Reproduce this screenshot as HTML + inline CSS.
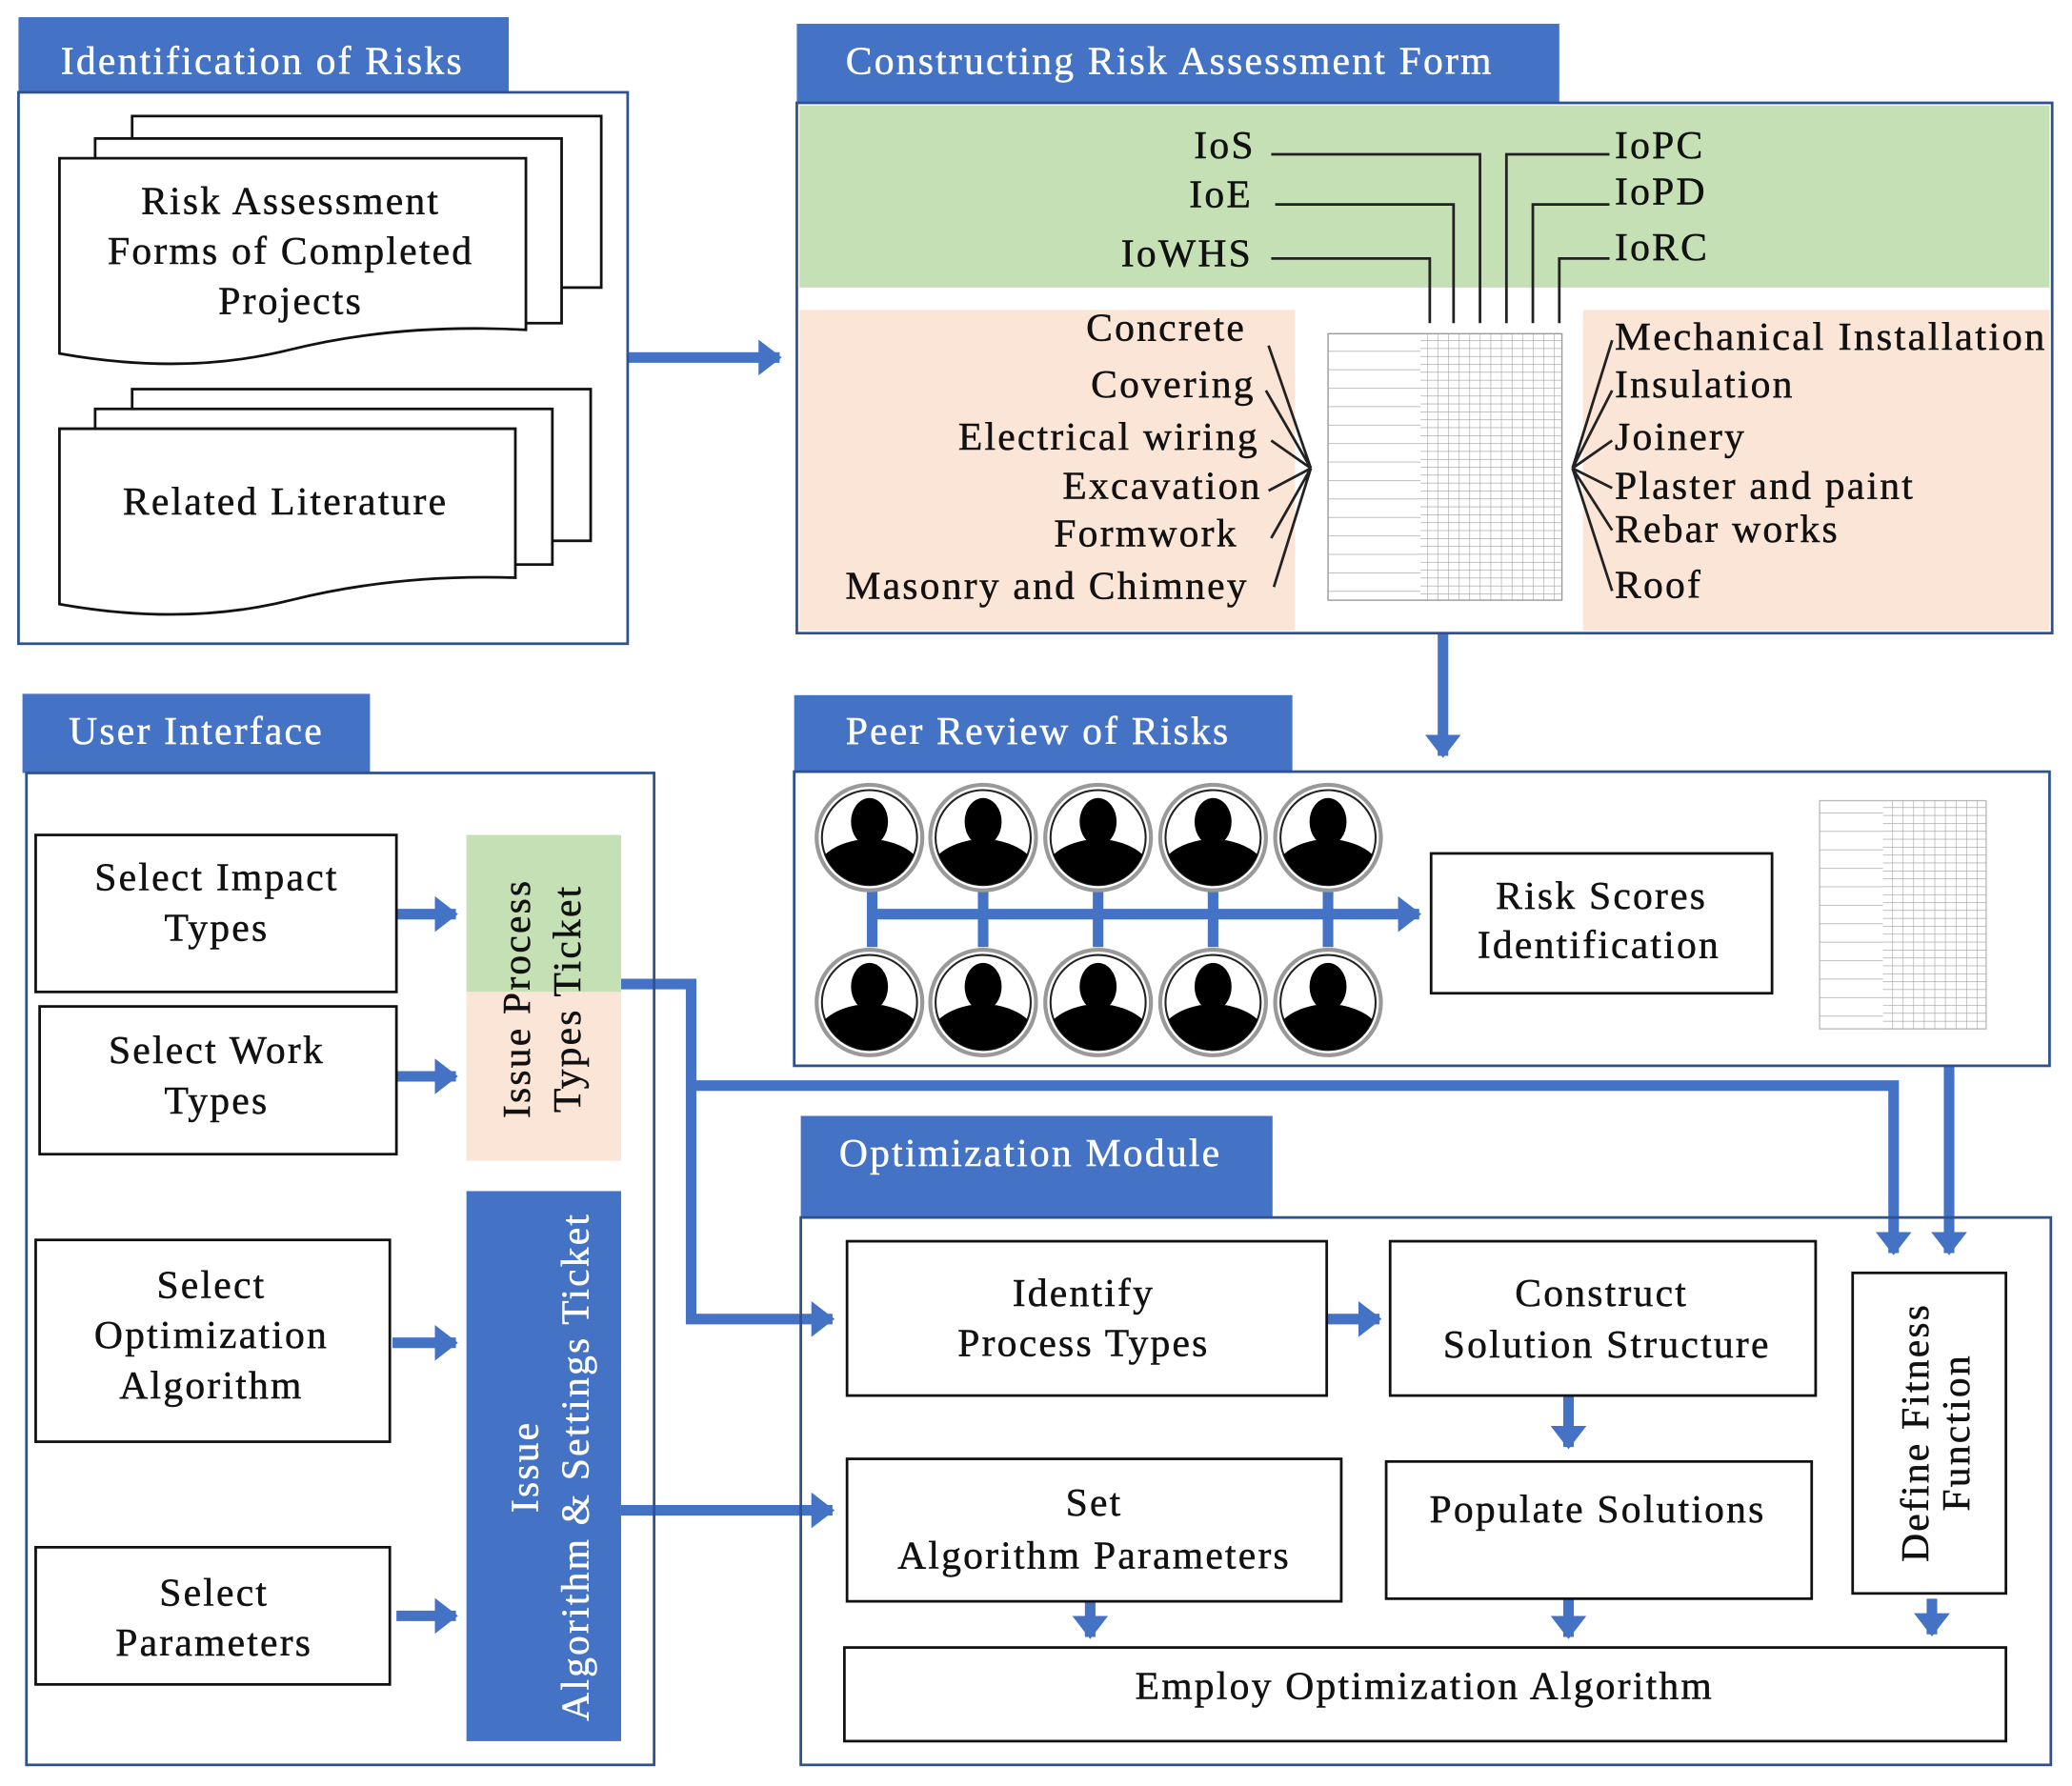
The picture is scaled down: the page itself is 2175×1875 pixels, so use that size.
<!DOCTYPE html>
<html><head><meta charset="utf-8"><style>
html,body{margin:0;padding:0;background:#fff}
svg{display:block}
text{font-family:"Liberation Serif",serif;fill:#111;letter-spacing:1.6px;stroke:#111;stroke-width:0.35}
.h{fill:#fff;stroke:#fff;font-size:30px}
.t{font-size:30px}
</style></head><body>
<svg width="2175" height="1875" viewBox="0 0 1568 1354" preserveAspectRatio="none" xmlns="http://www.w3.org/2000/svg">
<defs>
<marker id="a" markerWidth="4" markerHeight="4" refX="2" refY="2" orient="auto" markerUnits="strokeWidth"><path d="M0,0.3 L2.2,2 L0,3.7z" fill="#4472C4"/></marker>
<clipPath id="c"><circle r="36"/></clipPath>
<g id="p"><circle r="40" fill="#fff" stroke="#999" stroke-width="3"/><circle r="36" fill="#fff" stroke="#222" stroke-width="1.5"/>
<g clip-path="url(#c)"><ellipse cx="0" cy="-12" rx="14" ry="18" fill="#000"/><path d="M-8,0 L8,0 L10,8 L-10,8z" fill="#000"/><path d="M-40,40 L-38,18 Q-30,6 -10,2 L10,2 Q30,6 38,18 L40,40z" fill="#000"/></g></g>
<pattern id="g" width="8" height="6" patternUnits="userSpaceOnUse"><path d="M0,0H8M0,0V6" stroke="#999" stroke-width="0.8" fill="none"/></pattern>
<pattern id="g2" width="60" height="14" patternUnits="userSpaceOnUse"><path d="M0,0H60" stroke="#aaa" stroke-width="1" fill="none"/></pattern>
</defs>
<g fill="none" stroke="#4472C4" stroke-width="8">
<path d="M475,271H590" marker-end="url(#a)"/>
<path d="M1092,480V573" marker-end="url(#a)"/>
<path d="M660,693H1074" marker-end="url(#a)"/>
<path d="M660,670V718M744,670V718M831,670V718M918,670V718M1005,670V718" />
<path d="M300,693H345" marker-end="url(#a)"/>
<path d="M300,816H345" marker-end="url(#a)"/>
<path d="M297,1018H345" marker-end="url(#a)"/>
<path d="M300,1225H345" marker-end="url(#a)"/>
<path d="M470,746H523V1000H630" marker-end="url(#a)"/>
<path d="M523,823H1433V950" marker-end="url(#a)"/>
<path d="M1475,808V950" marker-end="url(#a)"/>
<path d="M470,1145H630" marker-end="url(#a)"/>
<path d="M1004,1000H1044" marker-end="url(#a)"/>
<path d="M1187,1058V1097" marker-end="url(#a)"/>
<path d="M825,1214V1241" marker-end="url(#a)"/>
<path d="M1187,1212V1241" marker-end="url(#a)"/>
<path d="M1462,1212V1239" marker-end="url(#a)"/>
</g>
<!-- Identification -->
<rect x="14" y="13" width="371" height="57" fill="#4472C4"/>
<text class="h" x="46" y="56">Identification of Risks</text>
<rect x="14" y="70" width="461" height="418" fill="none" stroke="#2F528F" stroke-width="2"/>
<g fill="#fff" stroke="#111" stroke-width="2">
<rect x="100" y="88" width="355" height="130"/><rect x="72" y="105" width="353" height="140"/>
<path d="M45,120H398V250Q300,245 220,265T45,268Z"/>
<rect x="100" y="295" width="347" height="115"/><rect x="72" y="310" width="346" height="118"/>
<path d="M45,325H390V438Q300,435 220,455T45,458Z"/>
</g>
<g class="t" text-anchor="middle"><text x="220" y="162">Risk Assessment</text><text x="220" y="200">Forms of Completed</text><text x="220" y="238">Projects</text><text x="216" y="390">Related Literature</text></g>
<!-- Constructing -->
<rect x="603" y="18" width="577" height="60" fill="#4472C4"/>
<text class="h" x="640" y="56">Constructing Risk Assessment Form</text>
<rect x="603" y="78" width="950" height="402" fill="#fff" stroke="#2F528F" stroke-width="2"/>
<rect x="605" y="80" width="946" height="138" fill="#C5E0B4"/>
<rect x="605" y="235" width="375" height="243" fill="#FBE5D6"/>
<rect x="1198" y="235" width="353" height="243" fill="#FBE5D6"/>
<rect x="1005" y="253" width="177" height="202" fill="#fff" stroke="#999"/>
<rect x="1005" y="253" width="70" height="202" fill="url(#g2)"/>
<rect x="1075" y="253" width="107" height="202" fill="url(#g)"/>
<g fill="none" stroke="#222" stroke-width="2">
<path d="M962,117H1120V245M965,155H1100V245M962,196H1082V245M1218,117H1140V245M1218,155H1160V245M1218,196H1180V245"/>
<path d="M960,262L992,355M958,296L992,355M962,334L992,355M960,372L992,355M962,408L992,355M964,445L992,355"/>
<path d="M1220,258L1190,355M1220,296L1190,355M1220,334L1190,355M1220,370L1190,355M1220,402L1190,355M1220,448L1190,355"/>
</g>
<g class="t" text-anchor="end"><text x="950" y="120">IoS</text><text x="948" y="157">IoE</text><text x="948" y="202">IoWHS</text>
<text x="943" y="258">Concrete</text><text x="950" y="301">Covering</text><text x="953" y="341">Electrical wiring</text><text x="955" y="378">Excavation</text><text x="937" y="414">Formwork</text><text x="945" y="454">Masonry and Chimney</text></g>
<g class="t"><text x="1222" y="120">IoPC</text><text x="1222" y="155">IoPD</text><text x="1222" y="197">IoRC</text>
<text x="1222" y="265" textLength="327" lengthAdjust="spacingAndGlyphs">Mechanical Installation</text><text x="1222" y="301">Insulation</text><text x="1222" y="341">Joinery</text><text x="1222" y="378">Plaster and paint</text><text x="1222" y="411">Rebar works</text><text x="1222" y="453">Roof</text></g>
<!-- Peer review -->
<rect x="601" y="527" width="377" height="58" fill="#4472C4"/>
<text class="h" x="640" y="564">Peer Review of Risks</text>
<rect x="601" y="585" width="950" height="223" fill="none" stroke="#2F528F" stroke-width="2"/>
<g><use href="#p" x="658" y="635"/><use href="#p" x="744" y="635"/><use href="#p" x="831" y="635"/><use href="#p" x="918" y="635"/><use href="#p" x="1005" y="635"/>
<use href="#p" x="658" y="760"/><use href="#p" x="744" y="760"/><use href="#p" x="831" y="760"/><use href="#p" x="918" y="760"/><use href="#p" x="1005" y="760"/></g>
<rect x="1083" y="647" width="258" height="106" fill="#fff" stroke="#111" stroke-width="2"/>
<g class="t" text-anchor="middle"><text x="1212" y="689">Risk Scores</text><text x="1210" y="726">Identification</text></g>
<rect x="1377" y="607" width="126" height="173" fill="#fff" stroke="#bbb"/>
<rect x="1377" y="607" width="48" height="173" fill="url(#g2)"/>
<rect x="1425" y="607" width="78" height="173" fill="url(#g)"/>
<!-- UI -->
<rect x="17" y="526" width="263" height="60" fill="#4472C4"/>
<text class="h" x="52" y="564">User Interface</text>
<rect x="20" y="586" width="475" height="752" fill="none" stroke="#2F528F" stroke-width="2"/>
<g fill="#fff" stroke="#111" stroke-width="2">
<rect x="27" y="633" width="273" height="119"/><rect x="30" y="763" width="270" height="112"/>
<rect x="27" y="940" width="268" height="153"/><rect x="27" y="1173" width="268" height="104"/>
<rect x="641" y="941" width="363" height="117"/><rect x="1052" y="941" width="322" height="117"/>
<rect x="1402" y="965" width="116" height="243"/><rect x="641" y="1106" width="374" height="108"/>
<rect x="1049" y="1108" width="322" height="104"/><rect x="639" y="1249" width="879" height="71"/>
</g>
<g class="t" text-anchor="middle"><text x="164" y="675">Select Impact</text><text x="164" y="713">Types</text>
<text x="164" y="806">Select Work</text><text x="164" y="844">Types</text>
<text x="160" y="984">Select</text><text x="160" y="1022">Optimization</text><text x="160" y="1060">Algorithm</text>
<text x="162" y="1217">Select</text><text x="162" y="1255">Parameters</text></g>
<rect x="353" y="633" width="117" height="119" fill="#C5E0B4"/>
<rect x="353" y="752" width="117" height="128" fill="#FBE5D6"/>
<g class="t" text-anchor="middle" transform="translate(411,757) rotate(-90)"><text x="0" y="-10">Issue Process</text><text x="0" y="28">Types Ticket</text></g>
<rect x="353" y="903" width="117" height="417" fill="#4472C4"/>
<g text-anchor="middle" transform="translate(411,1112) rotate(-90)"><text x="0" y="-4" class="h">Issue</text><text x="0" y="34" class="h">Algorithm &amp; Settings Ticket</text></g>
<!-- Optimization -->
<rect x="606" y="846" width="357" height="77" fill="#4472C4"/>
<text class="h" x="635" y="884">Optimization Module</text>
<rect x="606" y="923" width="946" height="415" fill="none" stroke="#2F528F" stroke-width="2"/>
<g class="t" text-anchor="middle"><text x="820" y="990">Identify</text><text x="820" y="1028">Process Types</text>
<text x="1212" y="990">Construct</text><text x="1216" y="1029">Solution Structure</text>
<text x="828" y="1149">Set</text><text x="828" y="1189">Algorithm Parameters</text>
<text x="1209" y="1154">Populate Solutions</text>
<text x="1078" y="1288">Employ Optimization Algorithm</text></g>
<g class="t" text-anchor="middle" transform="translate(1462,1086) rotate(-90)"><text x="0" y="-3">Define Fitness</text><text x="0" y="28">Function</text></g>
</svg>
</body></html>
